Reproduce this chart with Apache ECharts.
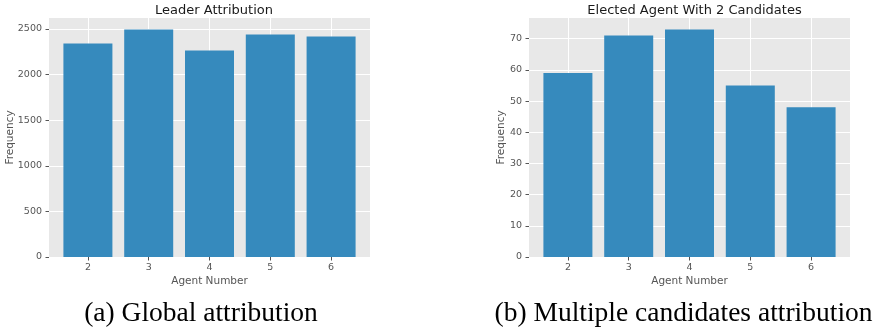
<!DOCTYPE html>
<html>
<head>
<meta charset="utf-8">
<script src="https://cdn.jsdelivr.net/npm/echarts@6/dist/echarts.min.js"></script>
<style>
html,body{margin:0;padding:0;background:#fff;}
#chart{width:883px;height:333px;}
</style>
</head>
<body>
<div id="chart"></div>
<script>
// ---- data ----
const agents = [2, 3, 4, 5, 6];
const leaderFreq = [2341, 2494, 2265, 2440, 2418];
const electedFreq = [59, 71, 73, 55, 48];
const yTicksLeader = [0, 500, 1000, 1500, 2000, 2500];
const yTicksElected = [0, 10, 20, 30, 40, 50, 60, 70];
const titles = ['Leader Attribution', 'Elected Agent With 2 Candidates'];
const captions = ['(a) Global attribution', '(b) Multiple candidates attribution'];
const xName = 'Agent Number';
const yName = 'Frequency';

const FONT = 'DejaVu Sans';
const GRAY = '#555555';

function xAxisCfg(gridIndex) {
  return {
    type: 'value', gridIndex: gridIndex, min: 1.36, max: 6.64,
    name: xName, nameLocation: 'middle', nameGap: 19, nameMoveOverlap: false,
    nameTextStyle: {fontFamily: FONT, fontSize: 10.5, color: GRAY},
    axisLine: {show: false},
    axisTick: {show: true, length: 3.5, lineStyle: {color: GRAY, width: 1}, customValues: agents},
    axisLabel: {customValues: agents, fontFamily: FONT, fontSize: 9.5, color: GRAY, margin: 6,
                formatter: v => String(v)},
    splitLine: {show: true, lineStyle: {color: '#ffffff', width: 1}}
  };
}
function yAxisCfg(gridIndex, max, interval, ticks, gap) {
  return {
    type: 'value', gridIndex: gridIndex, min: 0, max: max, interval: interval,
    name: yName, nameLocation: 'middle', nameGap: gap, nameMoveOverlap: false,
    nameTextStyle: {fontFamily: FONT, fontSize: 10.5, color: GRAY},
    axisLine: {show: false},
    axisTick: {show: true, length: 3.5, lineStyle: {color: GRAY, width: 1}, customValues: ticks},
    axisLabel: {customValues: ticks, fontFamily: FONT, fontSize: 9.5, color: GRAY, margin: 7,
                formatter: v => String(v)},
    splitLine: {show: true, lineStyle: {color: '#ffffff', width: 1}}
  };
}

const chart = echarts.init(document.getElementById('chart'), null, {renderer: 'canvas'});
chart.setOption({
  animation: false,
  backgroundColor: '#ffffff',
  title: [
    {text: titles[0], left: 209, top: -1, textAlign: 'center',
     textStyle: {fontFamily: FONT, fontSize: 13, fontWeight: 'normal', color: '#1a1a1a'}},
    {text: titles[1], left: 689.5, top: -1, textAlign: 'center',
     textStyle: {fontFamily: FONT, fontSize: 13, fontWeight: 'normal', color: '#1a1a1a'}}
  ],
  grid: [
    {left: 49, top: 18, width: 321, height: 239, show: true, backgroundColor: '#E8E8E8', borderWidth: 0},
    {left: 529, top: 18, width: 321, height: 239, show: true, backgroundColor: '#E8E8E8', borderWidth: 0}
  ],
  xAxis: [xAxisCfg(0), xAxisCfg(1)],
  yAxis: [
    yAxisCfg(0, 2620, 500, yTicksLeader, 33),
    yAxisCfg(1, 76.65, 10, yTicksElected, 22)
  ],
  series: [
    {type: 'bar', xAxisIndex: 0, yAxisIndex: 0, barWidth: 49,
     itemStyle: {color: '#368ABD', borderWidth: 0},
     data: agents.map((a, i) => [a, leaderFreq[i]])},
    {type: 'bar', xAxisIndex: 1, yAxisIndex: 1, barWidth: 49,
     itemStyle: {color: '#368ABD', borderWidth: 0},
     data: agents.map((a, i) => [a, electedFreq[i]])}
  ],
  graphic: [
    {type: 'text', x: 201, y: 314,
     style: {text: captions[0], fontFamily: 'Liberation Serif', fontSize: 27.5, fill: '#000',
             textAlign: 'center', textVerticalAlign: 'middle', align: 'center', verticalAlign: 'middle'}},
    {type: 'text', x: 683.5, y: 314,
     style: {text: captions[1], fontFamily: 'Liberation Serif', fontSize: 27.5, fill: '#000',
             textAlign: 'center', textVerticalAlign: 'middle', align: 'center', verticalAlign: 'middle'}}
  ]
});
</script>
</body>
</html>
